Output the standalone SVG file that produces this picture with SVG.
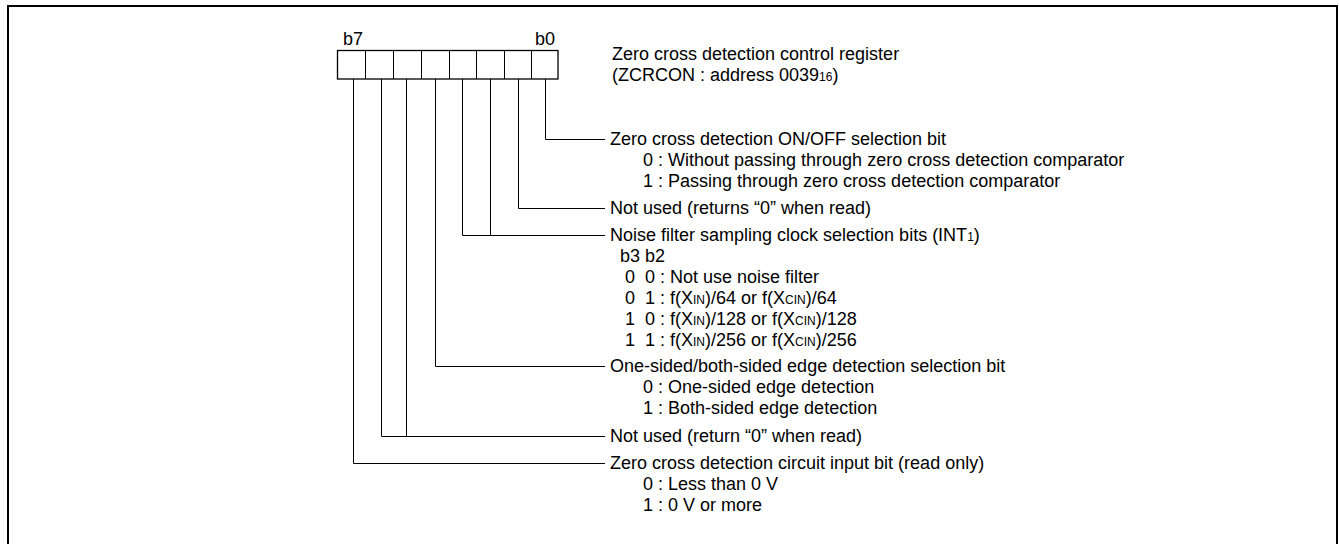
<svg xmlns="http://www.w3.org/2000/svg" width="1339" height="544" viewBox="0 0 1339 544">
<style>
text{font-family:"Liberation Sans",Arial,sans-serif;font-size:18px;fill:#000;white-space:pre}
.s{font-size:12px}
.w{fill:none;stroke:#000;stroke-width:1}
</style>
<rect x="0" y="0" width="1339" height="544" fill="#fff"/>
<rect id="frame" x="8" y="6" width="1329" height="560" fill="none" stroke="#000" stroke-width="2"/>
<g id="register">
<rect x="337.5" y="50.5" width="220.5" height="28.5" fill="none" stroke="#000" stroke-width="1.3"/>
<path class="w" d="M365.5 50.5V79M393.5 50.5V79M421.5 50.5V79M449.5 50.5V79M476.5 50.5V79M504.5 50.5V79M531.5 50.5V79"/>
<text x="343" y="45">b7</text>
<text x="535" y="45">b0</text>
<text x="612" y="60">Zero cross detection control register</text>
<text x="612" y="81">(ZCRCON : address 0039<tspan class="s">16</tspan>)</text>
</g>
<g id="connectors">
<path class="w" d="M545.5 79V139.5H605"/>
<path class="w" d="M518.5 79V208.5H605"/>
<path class="w" d="M490.5 79V235.5M462.5 79V235.5H605"/>
<path class="w" d="M435.5 79V366.5H605"/>
<path class="w" d="M406.5 79V436.5M381.5 79V436.5H605"/>
<path class="w" d="M353.5 79V463.5H605"/>
</g>
<g id="bit0">
<text x="610" y="145">Zero cross detection ON/OFF selection bit</text>
<text x="643" y="166">0 : Without passing through zero cross detection comparator</text>
<text x="643" y="187">1 : Passing through zero cross detection comparator</text>
</g>
<g id="bit1">
<text x="610" y="214">Not used (returns “0” when read)</text>
</g>
<g id="bit23">
<text x="610" y="241">Noise filter sampling clock selection bits (INT<tspan class="s">1</tspan>)</text>
<text x="620" y="262">b3 b2</text>
<text x="625" y="283">0  0 : Not use noise filter</text>
<text x="625" y="304">0  1 : f(X<tspan class="s">IN</tspan>)/64 or f(X<tspan class="s">CIN</tspan>)/64</text>
<text x="625" y="325">1  0 : f(X<tspan class="s">IN</tspan>)/128 or f(X<tspan class="s">CIN</tspan>)/128</text>
<text x="625" y="346">1  1 : f(X<tspan class="s">IN</tspan>)/256 or f(X<tspan class="s">CIN</tspan>)/256</text>
</g>
<g id="bit4">
<text x="610" y="372">One-sided/both-sided edge detection selection bit</text>
<text x="643" y="393">0 : One-sided edge detection</text>
<text x="643" y="414">1 : Both-sided edge detection</text>
</g>
<g id="bit56">
<text x="610" y="442">Not used (return “0” when read)</text>
</g>
<g id="bit7">
<text x="610" y="469">Zero cross detection circuit input bit (read only)</text>
<text x="643" y="490">0 : Less than 0 V</text>
<text x="643" y="511">1 : 0 V or more</text>
</g>
</svg>
